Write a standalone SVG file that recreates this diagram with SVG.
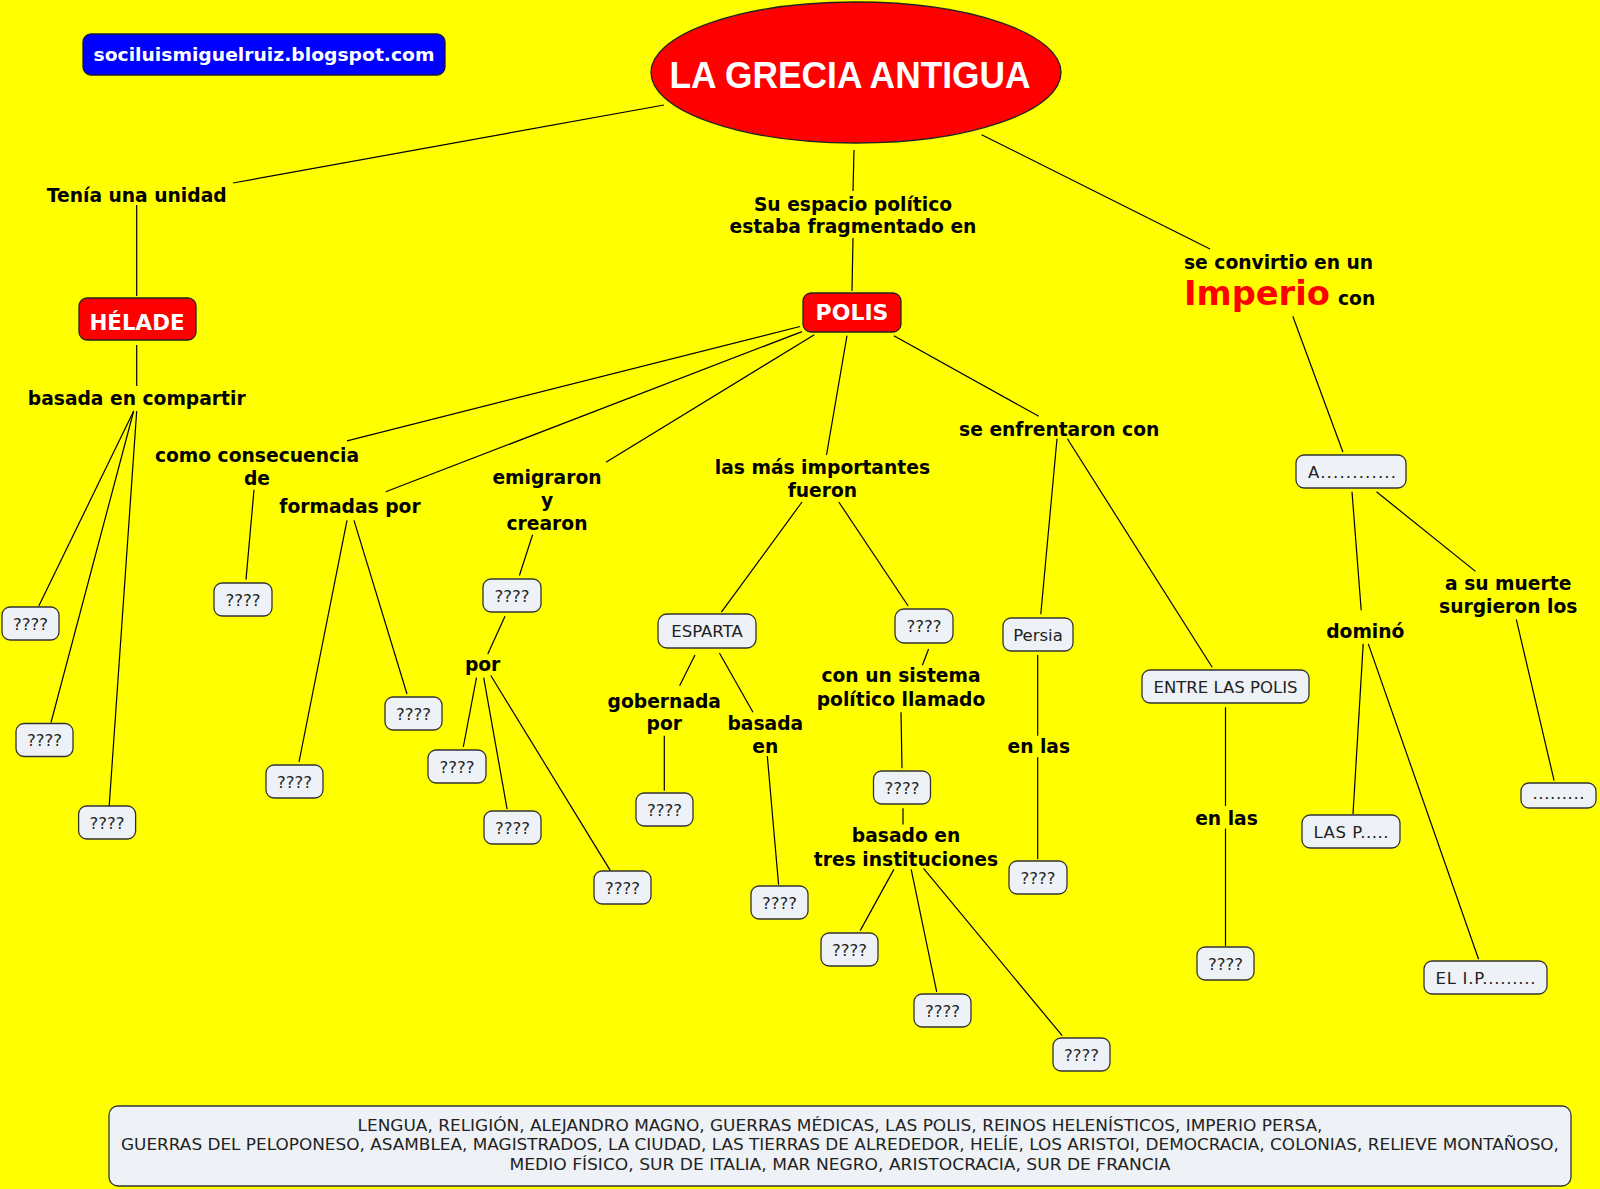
<svg xmlns="http://www.w3.org/2000/svg" width="1600" height="1189" viewBox="0 0 1600 1189">
<style>
.lbl{font-family:"DejaVu Sans",Verdana,sans-serif;font-weight:bold;font-size:18.7px;fill:#000;text-anchor:middle}
.box{fill:#eef2f6;stroke:#333;stroke-width:1.3}
.bt{font-family:"DejaVu Sans",Verdana,sans-serif;font-size:16.5px;fill:#222;text-anchor:middle}
.red{fill:#ff0000;stroke:#222;stroke-width:1.3}
.wt{font-family:"DejaVu Sans",Verdana,sans-serif;font-weight:bold;fill:#fff;text-anchor:middle}
#connectors line{stroke:#000;stroke-width:1.2}
</style>
<rect width="1600" height="1189" fill="#ffff00"/>
<g id="connectors">
<line x1="664" y1="105" x2="233" y2="183"/>
<line x1="136.7" y1="205" x2="136.7" y2="296"/>
<line x1="136.7" y1="345" x2="136.7" y2="386"/>
<line x1="133.7" y1="411" x2="38.8" y2="606"/>
<line x1="133.7" y1="411" x2="51" y2="722.5"/>
<line x1="136.7" y1="411" x2="109.2" y2="806"/>
<line x1="854" y1="150" x2="853" y2="191"/>
<line x1="853" y1="238" x2="852" y2="291"/>
<line x1="981.6" y1="134.7" x2="1210" y2="249"/>
<line x1="1292.8" y1="316.3" x2="1342.9" y2="452"/>
<line x1="800" y1="326.5" x2="347" y2="440.8"/>
<line x1="802" y1="331.6" x2="385.7" y2="491.8"/>
<line x1="814.3" y1="334.7" x2="606" y2="462.2"/>
<line x1="847" y1="335.7" x2="826.5" y2="455"/>
<line x1="893.9" y1="335.7" x2="1038.8" y2="416.3"/>
<line x1="254" y1="489.8" x2="246" y2="579.6"/>
<line x1="347" y1="520.4" x2="299" y2="762"/>
<line x1="354" y1="520.4" x2="407" y2="694"/>
<line x1="532.6" y1="534.7" x2="519.4" y2="575.5"/>
<line x1="505" y1="616.3" x2="487.8" y2="654"/>
<line x1="476.5" y1="677.6" x2="463.3" y2="747"/>
<line x1="483.7" y1="677.6" x2="507.1" y2="809.2"/>
<line x1="490.8" y1="675.5" x2="610.2" y2="870.4"/>
<line x1="802" y1="502" x2="721.4" y2="612.2"/>
<line x1="838.8" y1="502" x2="908.2" y2="606"/>
<line x1="695" y1="655" x2="679.6" y2="685.7"/>
<line x1="719.4" y1="653" x2="753" y2="712.3"/>
<line x1="664.3" y1="735.7" x2="664.3" y2="790.8"/>
<line x1="767.3" y1="756" x2="778.6" y2="884.7"/>
<line x1="928.6" y1="649" x2="922.4" y2="665.3"/>
<line x1="901" y1="712.2" x2="902" y2="768.3"/>
<line x1="903" y1="808.2" x2="903" y2="824.5"/>
<line x1="893.9" y1="869.4" x2="860.2" y2="930.6"/>
<line x1="911.2" y1="869.4" x2="936.7" y2="991.8"/>
<line x1="923.5" y1="868.4" x2="1062.2" y2="1035.7"/>
<line x1="1057" y1="438.8" x2="1040.8" y2="614.3"/>
<line x1="1067.4" y1="438.8" x2="1212.2" y2="667.3"/>
<line x1="1037.7" y1="655" x2="1037.7" y2="735.7"/>
<line x1="1037.7" y1="757.2" x2="1037.7" y2="859.2"/>
<line x1="1225.5" y1="707.2" x2="1225.5" y2="806.1"/>
<line x1="1225.5" y1="828.6" x2="1225.5" y2="946"/>
<line x1="1352" y1="491.8" x2="1361.2" y2="610.2"/>
<line x1="1376.5" y1="491.8" x2="1475.5" y2="571.4"/>
<line x1="1363.2" y1="643.9" x2="1353" y2="814.3"/>
<line x1="1368.3" y1="643.9" x2="1478.6" y2="959.2"/>
<line x1="1516.3" y1="619.4" x2="1554.1" y2="780.6"/>
</g>
<g id="blog">
<rect x="83" y="34" width="362" height="41" rx="8" fill="#0000ff" stroke="#1a1a40" stroke-width="1.3"/>
<text class="wt" x="264" y="60.5" font-size="17" textLength="341" lengthAdjust="spacingAndGlyphs">sociluismiguelruiz.blogspot.com</text>
</g>
<g id="title">
<ellipse cx="856" cy="72.5" rx="205" ry="70.5" fill="#ff0000" stroke="#222" stroke-width="1.3"/>
<text x="850" y="87.5" font-family="'Liberation Sans',Arial,sans-serif" font-weight="bold" font-size="37" fill="#fff" text-anchor="middle" textLength="361" lengthAdjust="spacingAndGlyphs">LA GRECIA ANTIGUA</text>
</g>
<g id="l-tenia"><text class="lbl" x="136.7" y="201.5">Tenía una unidad</text></g>
<g id="helade">
<rect class="red" x="79" y="298" width="117" height="42" rx="8"/>
<text class="wt" x="137" y="330" font-size="21.4">HÉLADE</text>
</g>
<g id="l-basada-compartir"><text class="lbl" x="136.7" y="404.5">basada en compartir</text></g>
<g id="h1"><rect class="box" x="2" y="607" width="57" height="33" rx="8"/><text class="bt" x="30.5" y="629.5">????</text></g>
<g id="h2"><rect class="box" x="16" y="723.5" width="57" height="33" rx="8"/><text class="bt" x="44.5" y="746">????</text></g>
<g id="h3"><rect class="box" x="78.6" y="806" width="57" height="33" rx="8"/><text class="bt" x="107" y="828.5">????</text></g>
<g id="l-su-espacio"><text class="lbl" x="853" y="210.5">Su espacio político</text><text class="lbl" x="853" y="233">estaba fragmentado en</text></g>
<g id="polis">
<rect class="red" x="803" y="293" width="98" height="39" rx="8"/>
<text class="wt" x="852" y="320" font-size="22">POLIS</text>
</g>
<g id="l-imperio">
<text class="lbl" x="1184" y="268.7" style="text-anchor:start">se convirtio en un</text>
<text x="1184" y="305" font-family="'DejaVu Sans',Verdana,sans-serif" font-weight="bold" font-size="33.7" fill="#f00">Imperio</text>
<text class="lbl" x="1338" y="305" style="text-anchor:start">con</text>
</g>
<g id="alejandro"><rect class="box" x="1296" y="455" width="110" height="33" rx="8"/><text class="bt" x="1352" y="477.5" textLength="88">A............</text></g>
<g id="l-consecuencia"><text class="lbl" x="257" y="461.5">como consecuencia</text><text class="lbl" x="257" y="485">de</text></g>
<g id="p1"><rect class="box" x="214" y="583" width="58" height="33" rx="8"/><text class="bt" x="243" y="605.5">????</text></g>
<g id="l-formadas"><text class="lbl" x="350" y="512.5">formadas por</text></g>
<g id="p2"><rect class="box" x="266" y="765" width="57" height="33" rx="8"/><text class="bt" x="294.5" y="787.5">????</text></g>
<g id="p3"><rect class="box" x="385" y="697" width="57" height="33" rx="8"/><text class="bt" x="413.5" y="719.5">????</text></g>
<g id="l-emigraron"><text class="lbl" x="547" y="484">emigraron</text><text class="lbl" x="547" y="506.5">y</text><text class="lbl" x="547" y="530">crearon</text></g>
<g id="p4"><rect class="box" x="483" y="579" width="58" height="33" rx="8"/><text class="bt" x="512" y="601.5">????</text></g>
<g id="l-por"><text class="lbl" x="482.6" y="670.8">por</text></g>
<g id="p5"><rect class="box" x="428" y="750" width="58" height="33" rx="8"/><text class="bt" x="457" y="772.5">????</text></g>
<g id="p6"><rect class="box" x="484" y="811" width="57" height="33" rx="8"/><text class="bt" x="512.5" y="833.5">????</text></g>
<g id="p7"><rect class="box" x="594" y="871" width="57" height="33" rx="8"/><text class="bt" x="622.5" y="893.5">????</text></g>
<g id="l-importantes"><text class="lbl" x="822.4" y="473.8">las más importantes</text><text class="lbl" x="822.4" y="497.3">fueron</text></g>
<g id="esparta"><rect class="box" x="658" y="614" width="98" height="34" rx="9"/><text class="bt" x="707" y="637">ESPARTA</text></g>
<g id="atenas"><rect class="box" x="895" y="609" width="58" height="34" rx="9"/><text class="bt" x="924" y="632">????</text></g>
<g id="l-gobernada"><text class="lbl" x="664.3" y="707.5">gobernada</text><text class="lbl" x="664.3" y="730">por</text></g>
<g id="l-basada-en"><text class="lbl" x="765.3" y="730">basada</text><text class="lbl" x="765.3" y="753.4">en</text></g>
<g id="e1"><rect class="box" x="636" y="793" width="57" height="33" rx="8"/><text class="bt" x="664.5" y="815.5">????</text></g>
<g id="e2"><rect class="box" x="751" y="886" width="57" height="33" rx="8"/><text class="bt" x="779.5" y="908.5">????</text></g>
<g id="l-sistema"><text class="lbl" x="901" y="682">con un sistema</text><text class="lbl" x="901" y="705.5">político llamado</text></g>
<g id="a1"><rect class="box" x="873.5" y="771" width="57" height="33" rx="8"/><text class="bt" x="902" y="793.5">????</text></g>
<g id="l-instituciones"><text class="lbl" x="906" y="842.2">basado en</text><text class="lbl" x="906" y="865.7">tres instituciones</text></g>
<g id="a2"><rect class="box" x="821" y="933" width="57" height="33" rx="8"/><text class="bt" x="849.5" y="955.5">????</text></g>
<g id="a3"><rect class="box" x="914" y="994" width="57" height="33" rx="8"/><text class="bt" x="942.5" y="1016.5">????</text></g>
<g id="a4"><rect class="box" x="1053" y="1038" width="57" height="33" rx="8"/><text class="bt" x="1081.5" y="1060.5">????</text></g>
<g id="l-enfrentaron"><text class="lbl" x="1059.2" y="436">se enfrentaron con</text></g>
<g id="persia"><rect class="box" x="1003" y="618" width="70" height="33" rx="8"/><text class="bt" x="1038" y="640.5">Persia</text></g>
<g id="l-enlas1"><text class="lbl" x="1038.8" y="753.4">en las</text></g>
<g id="g1"><rect class="box" x="1009" y="861" width="58" height="33" rx="8"/><text class="bt" x="1038" y="883.5">????</text></g>
<g id="entre"><rect class="box" x="1142" y="670" width="167" height="33" rx="8"/><text class="bt" x="1225.5" y="692.5">ENTRE LAS POLIS</text></g>
<g id="l-enlas2"><text class="lbl" x="1226.5" y="824.8">en las</text></g>
<g id="g2"><rect class="box" x="1197" y="947" width="57" height="33" rx="8"/><text class="bt" x="1225.5" y="969.5">????</text></g>
<g id="l-domino"><text class="lbl" x="1365.3" y="638">dominó</text></g>
<g id="l-muerte"><text class="lbl" x="1508.2" y="590.2">a su muerte</text><text class="lbl" x="1508.2" y="612.6">surgieron los</text></g>
<g id="lasp"><rect class="box" x="1302" y="815" width="98" height="33" rx="8"/><text class="bt" x="1351" y="837.5" textLength="75">LAS P.....</text></g>
<g id="elip"><rect class="box" x="1424" y="961" width="123" height="33" rx="8"/><text class="bt" x="1485.5" y="983.5" textLength="100">EL I.P.........</text></g>
<g id="reinos"><rect class="box" x="1521" y="783" width="75" height="25" rx="8"/><text class="bt" x="1558.5" y="799" textLength="52">.........</text></g>
<g id="word-bank">
<rect class="box" x="109" y="1106" width="1462" height="80" rx="9"/>
<text class="bt" x="840" y="1131" font-size="15.5" textLength="965" lengthAdjust="spacingAndGlyphs">LENGUA, RELIGIÓN, ALEJANDRO MAGNO, GUERRAS MÉDICAS, LAS POLIS, REINOS HELENÍSTICOS, IMPERIO PERSA,</text>
<text class="bt" x="840" y="1150.4" font-size="15.5" textLength="1438" lengthAdjust="spacingAndGlyphs">GUERRAS DEL PELOPONESO, ASAMBLEA, MAGISTRADOS, LA CIUDAD, LAS TIERRAS DE ALREDEDOR, HELÍE, LOS ARISTOI, DEMOCRACIA, COLONIAS, RELIEVE MONTAÑOSO,</text>
<text class="bt" x="840" y="1169.8" font-size="15.5" textLength="661" lengthAdjust="spacingAndGlyphs">MEDIO FÍSICO, SUR DE ITALIA, MAR NEGRO, ARISTOCRACIA, SUR DE FRANCIA</text>
</g>
</svg>
